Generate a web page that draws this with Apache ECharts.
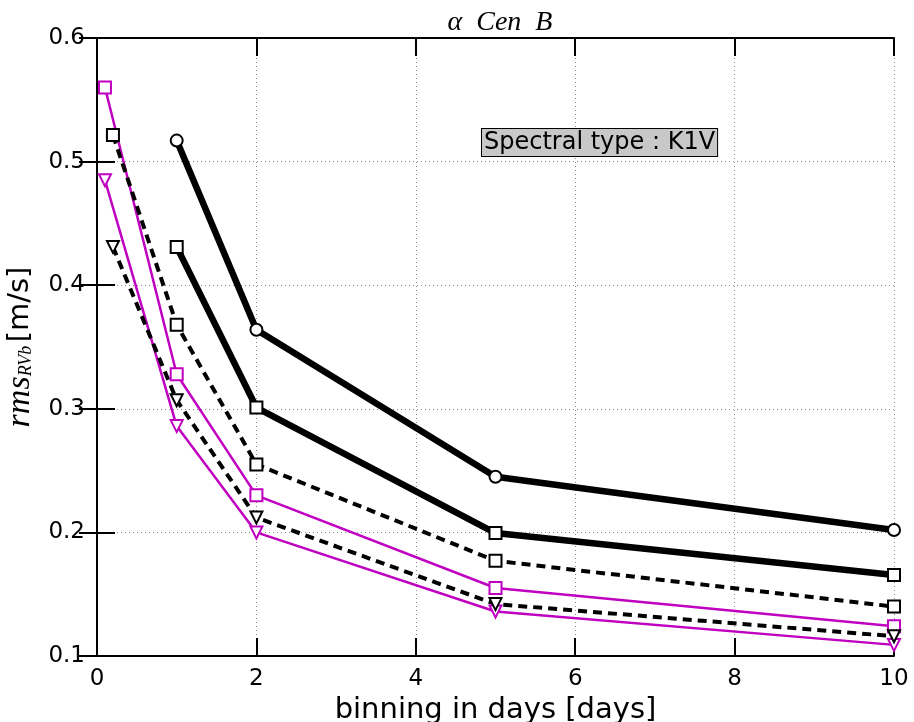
<!DOCTYPE html>
<html>
<head>
<meta charset="utf-8">
<script src="https://cdn.jsdelivr.net/npm/echarts@6/dist/echarts.min.js"></script>
<style>
  html, body { margin: 0; padding: 0; background: #fff; }
  #chart { width: 914px; height: 722px; }
</style>
</head>
<body>
<div id="chart"></div>
<script>
// Binning intervals (days) for each family of curves
const binsLong = [1, 2, 5, 10];
const binsBlackShort = [0.2, 1, 2, 5, 10];
const binsMagenta = [0.1, 1, 2, 5, 10];

// rms of binned RV (m/s)
const rmsThickCircle = [0.517, 0.364, 0.245, 0.202];
const rmsThickSquare = [0.431, 0.301, 0.1995, 0.1655];
const rmsDashSquare = [0.5215, 0.368, 0.255, 0.177, 0.140];
const rmsMagSquare = [0.560, 0.328, 0.230, 0.155, 0.124];
const rmsDashTriangle = [0.431, 0.307, 0.212, 0.142, 0.116];
const rmsMagTriangle = [0.485, 0.286, 0.200, 0.136, 0.109];

const xTicks = [0, 2, 4, 6, 8, 10];
const yTicks = [0.1, 0.2, 0.3, 0.4, 0.5, 0.6];

const MAGENTA = '#c000c0';
const SANS = '"DejaVu Sans", sans-serif';
const SERIF = '"Liberation Serif", "DejaVu Serif", serif';

const pair = (xs, ys) => xs.map((x, i) => [x, ys[i]]);

function lineSeries(xs, ys, color, width, dashed, symbol, size) {
  return {
    type: 'line',
    data: pair(xs, ys),
    symbol: symbol,
    symbolSize: size,
    showAllSymbol: true,
    lineStyle: { color: color, width: width, type: dashed ? [9, 6] : 'solid' },
    itemStyle: { color: '#fff', borderColor: color, borderWidth: 2 },
    emphasis: { disabled: true },
    animation: false,
    z: 3
  };
}

const tri = 'path://M0,0 L12,0 L6,10 Z';

const baseAxis = {
  axisLine: { show: true, lineStyle: { color: '#000', width: 2 } },
  axisTick: { show: true, inside: true, length: 18, lineStyle: { color: '#000', width: 2 } },
  splitLine: { show: false }
};

const chart = echarts.init(document.getElementById('chart'));
chart.setOption({
  animation: false,
  backgroundColor: '#fff',
  title: {
    text: 'α\u2002Cen\u2002B',
    left: 495, top: 4,
    textAlign: 'center',
    textStyle: { fontFamily: SERIF, fontStyle: 'italic', fontWeight: 'normal', fontSize: 28, color: '#000' }
  },
  grid: { left: 97, right: 20, top: 38, bottom: 66, outerBoundsMode: 'none', containLabel: false },
  xAxis: [
    Object.assign({}, baseAxis, {
      type: 'value', min: 0, max: 10, interval: 2,
      position: 'bottom',
      name: 'binning in days [days]',
      nameLocation: 'middle', nameGap: 36,
      nameTextStyle: { fontFamily: SANS, fontSize: 29, color: '#000' },
      axisLabel: { fontFamily: SANS, fontSize: 23, color: '#000', margin: 12,
        formatter: v => xTicks.includes(v) ? String(v) : '' },
      splitLine: { show: true, lineStyle: { color: '#888', width: 1, type: [1, 3] } }
    }),
    Object.assign({}, baseAxis, {
      type: 'value', min: 0, max: 10, interval: 2,
      position: 'top', axisLabel: { show: false }
    })
  ],
  yAxis: [
    Object.assign({}, baseAxis, {
      type: 'value', min: 0.1, max: 0.6, interval: 0.1,
      position: 'left',
      name: '{it|rms}{sub|RVb} {n|[m/s]}',
      nameLocation: 'middle', nameGap: 57, nameRotate: 90,
      nameTextStyle: {
        color: '#000',
        rich: {
          it: { fontFamily: SERIF, fontStyle: 'italic', fontSize: 34, color: '#000' },
          sub: { fontFamily: SERIF, fontStyle: 'italic', fontSize: 18, color: '#000', padding: [12, 0, 0, 0] },
          n: { fontFamily: SANS, fontSize: 29, color: '#000' }
        }
      },
      axisLabel: { fontFamily: SANS, fontSize: 23, color: '#000', margin: 12,
        formatter: v => v.toFixed(1) },
      splitLine: { show: true, lineStyle: { color: '#888', width: 1, type: [1, 3] } }
    }),
    Object.assign({}, baseAxis, {
      type: 'value', min: 0.1, max: 0.6, interval: 0.1,
      position: 'right', axisLabel: { show: false }
    })
  ],
  graphic: [{
    type: 'text',
    left: 481, top: 128,
    z: 10,
    style: {
      text: 'Spectral type : K1V',
      fontFamily: SANS,
      fontSize: 24,
      fill: '#000',
      backgroundColor: '#c8c8c8',
      borderColor: '#000',
      borderWidth: 1,
      padding: [2, 2, 1, 2]
    }
  }],
  series: [
    lineSeries(binsMagenta, rmsMagSquare, MAGENTA, 2.5, false, 'rect', 12),
    lineSeries(binsMagenta, rmsMagTriangle, MAGENTA, 2.5, false, tri, 12),
    lineSeries(binsBlackShort, rmsDashSquare, '#000', 4, true, 'rect', 12),
    lineSeries(binsBlackShort, rmsDashTriangle, '#000', 4, true, tri, 12),
    lineSeries(binsLong, rmsThickSquare, '#000', 6.5, false, 'rect', 12),
    lineSeries(binsLong, rmsThickCircle, '#000', 6.5, false, 'circle', 12)
  ]
});
</script>
</body>
</html>
